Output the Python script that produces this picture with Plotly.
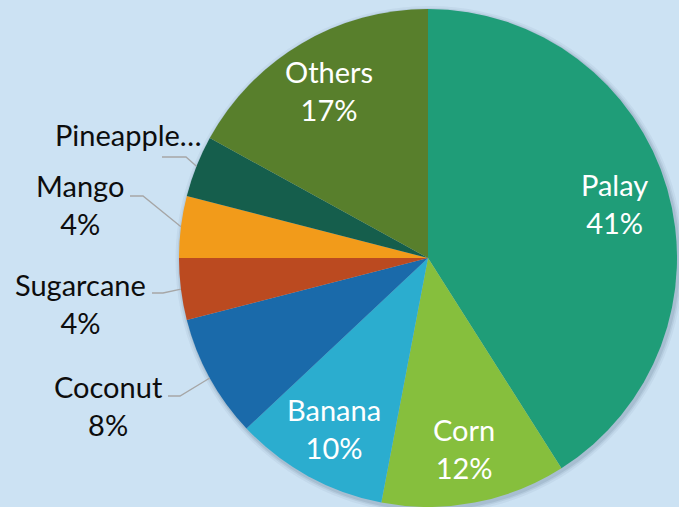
import math
import plotly.graph_objects as go

# Crop area shares (%), listed clockwise from 12 o'clock
crops = ["Palay", "Corn", "Banana", "Coconut", "Sugarcane", "Mango", "Pineapple", "Others"]
shares = [41, 12, 10, 8, 4, 4, 4, 17]
slice_colors = ["#1f9d78", "#86bf3d", "#2badcf", "#1a6aaa",
                "#bb4a20", "#f29b1a", "#155e4c", "#587f2c"]

# Slices labelled inside; the rest get an outside label with a leader line
inside_labels = ["Palay", "Corn", "Banana", "Others"]
# The Pineapple label is clipped by its box, so only the truncated name shows
label_text = {"Pineapple": "Pineapple…"}
hide_pct = ["Pineapple"]

W, H = 679, 507
FONT = "Lato"
FS = 29

# Pie box in pixels (left, top, right, bottom)
box = (179, 9, 677, 507)
cx = (box[0] + box[2]) / 2
cy = (box[1] + box[3]) / 2
R = min(box[2] - box[0], box[3] - box[1]) / 2

# Outside label placement: text centre (px) and leader-line elbow (start x, elbow x, y)
outside_layout = {
    "Coconut":   dict(tx=108, ty=405, lx0=168, lx1=180, ly=396),
    "Sugarcane": dict(tx=80,  ty=303, lx0=152, lx1=163, ly=293),
    "Mango":     dict(tx=80,  ty=204, lx0=130, lx1=143, ly=196),
    "Pineapple": dict(tx=128, ty=134, lx0=162, lx1=186, ly=157),
}


def px(x):
    return x / W


def py(y):
    return 1 - y / H


total = sum(shares)
fig = go.Figure()

# soft drop shadow under the pie
shapes = []
for grow, alpha in [(5, 0.05), (3, 0.08), (1.5, 0.10)]:
    shapes.append(dict(
        type="circle", xref="paper", yref="paper", layer="below",
        x0=px(cx - R - grow + 1.5), x1=px(cx + R + grow + 1.5),
        y0=py(cy + R + grow + 2), y1=py(cy - R - grow + 2),
        fillcolor=f"rgba(40,60,90,{alpha})", line=dict(width=0),
    ))

fig.add_trace(go.Pie(
    labels=crops,
    values=shares,
    sort=False,
    direction="clockwise",
    rotation=0,
    textinfo="none",
    hoverinfo="label+percent",
    marker=dict(colors=slice_colors, line=dict(width=0)),
    domain=dict(x=[px(box[0]), px(box[2])], y=[py(box[3]), py(box[1])]),
    showlegend=False,
))

annotations = []
cum = 0
for name, v in zip(crops, shares):
    mid = (cum + v / 2) / total * 2 * math.pi  # angle clockwise from 12 o'clock
    cum += v
    pct = f"{v / total:.0%}"
    name_txt = label_text.get(name, name)
    text = name_txt if name in hide_pct else f"{name_txt}<br>{pct}"
    if name in inside_labels:
        r = 0.78 * R
        x = cx + r * math.sin(mid)
        y = cy - r * math.cos(mid)
        annotations.append(dict(
            x=px(x), y=py(y), xref="paper", yref="paper", text=text,
            showarrow=False, xanchor="center", yanchor="middle", align="center",
            font=dict(family=FONT, size=FS, color="white"),
        ))
    else:
        lay = outside_layout[name]
        ex = cx + R * math.sin(mid)
        ey = cy - R * math.cos(mid)
        path = (f"M {px(lay['lx0'])} {py(lay['ly'])} "
                f"L {px(lay['lx1'])} {py(lay['ly'])} "
                f"L {px(ex)} {py(ey)}")
        shapes.append(dict(type="path", xref="paper", yref="paper", path=path,
                           line=dict(color="#a6a6a6", width=1.3)))
        annotations.append(dict(
            x=px(lay["tx"]), y=py(lay["ty"]), xref="paper", yref="paper", text=text,
            showarrow=False, xanchor="center", yanchor="middle", align="center",
            font=dict(family=FONT, size=FS, color="#0d0d0d"),
        ))

fig.update_layout(
    width=W, height=H,
    margin=dict(l=0, r=0, t=0, b=0),
    paper_bgcolor="#cce2f3",
    plot_bgcolor="#cce2f3",
    shapes=shapes,
    annotations=annotations,
)

fig.write_html("out.html")
